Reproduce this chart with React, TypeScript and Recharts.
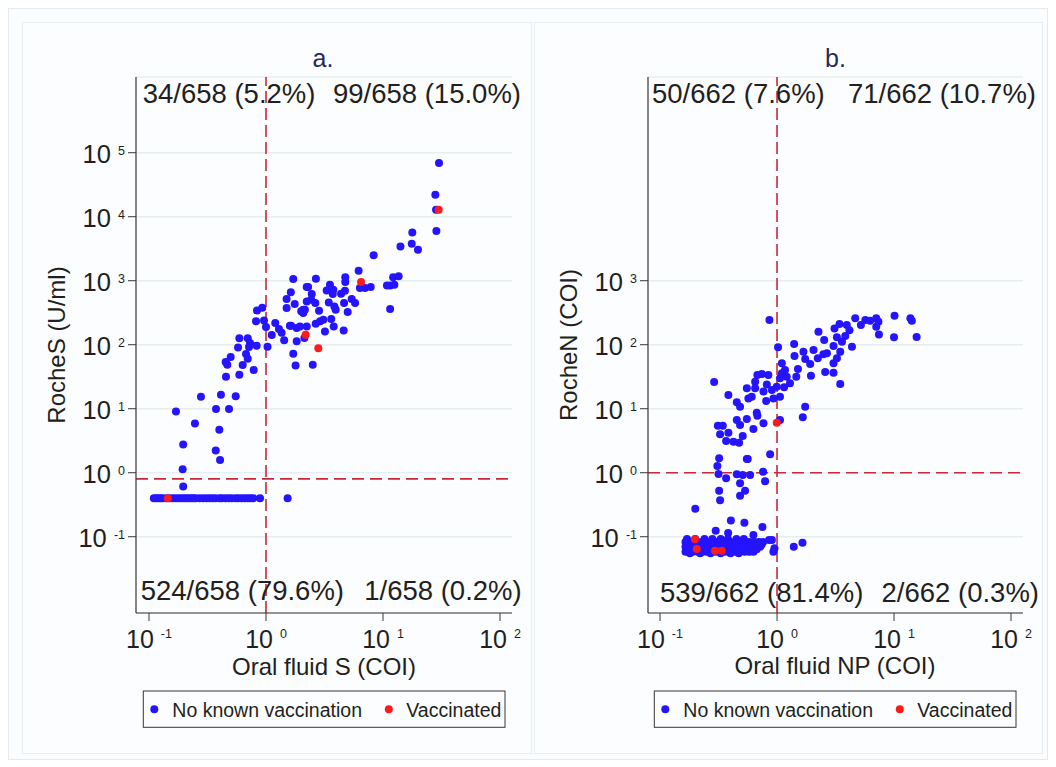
import {
	CartesianGrid,
	ReferenceLine,
	Scatter,
	ScatterChart,
	XAxis,
	YAxis,
} from "recharts";

// panel a: oral fluid S vs RocheS (U/ml)
const S_FLOOR = 0.4;
const sFloorNoVaxX = [
	0.11, 0.115, 0.12, 0.125, 0.13, 0.14, 0.15, 0.16, 0.17, 0.18, 0.19, 0.2, 0.21, 0.22, 0.23,
	0.24, 0.25, 0.27, 0.29, 0.31, 0.33, 0.35, 0.37, 0.4, 0.42, 0.45, 0.48, 0.51, 0.55, 0.58, 0.62,
	0.66, 0.7, 0.74, 0.78, 0.89, 1.53,
];
const sNoVax: [number, number][] = [
	[0.196, 0.611], [0.194, 1.13], [0.196, 2.77], [0.17, 9.08], [0.247, 5.89], [0.278, 15.4],
	[0.374, 9.89], [0.399, 4.7], [0.372, 2.23], [0.405, 1.58], [0.412, 16.6], [0.483, 9.89],
	[0.551, 15.6], [0.455, 31.6], [0.592, 34.0], [0.785, 40.2], [0.632, 48.1], [0.467, 48.8],
	[0.452, 53.6], [0.499, 64.1], [0.675, 71.4], [0.698, 60.4], [0.577, 90.8], [0.832, 96.4],
	[1.03, 93.1], [0.592, 126], [0.698, 126], [0.73, 106], [0.716, 92.0], [0.822, 232],
	[0.838, 344], [0.929, 378], [0.962, 240], [1.0, 189], [1.12, 142], [1.2, 218], [1.29, 176],
	[1.36, 154], [1.43, 117], [1.71, 72.3], [1.79, 47.5], [1.71, 1060], [1.5, 518], [1.63, 658],
	[1.76, 432], [1.5, 374], [1.6, 198], [1.83, 182], [2.08, 352], [2.23, 796],
	[30.1, 69000], [28.0, 22100], [28.4, 12900], [28.6, 5970], [17.8, 5690], [17.6, 3780],
	[19.9, 3050], [14.1, 3440], [8.32, 2490], [6.19, 1430], [6.35, 767], [7.01, 767], [7.85, 796],
	[4.76, 1130], [4.76, 953], [2.67, 1070], [2.29, 796], [3.52, 867], [3.3, 706], [3.76, 723],
	[3.72, 619], [4.38, 627], [4.73, 698], [2.46, 619], [2.43, 505], [2.23, 475], [2.64, 448],
	[3.44, 458], [3.84, 397], [3.94, 352], [4.65, 448], [5.4, 518], [5.77, 448], [4.99, 324],
	[2.84, 340], [2.15, 352], [2.08, 313], [2.0, 332], [11.5, 845], [12.2, 1130], [13.6, 1170],
	[12.5, 867], [10.8, 845], [11.5, 361], [2.66, 213], [2.9, 232], [3.09, 246], [3.61, 252],
	[3.79, 193], [3.19, 161], [4.61, 167], [2.51, 48.8], [2.13, 127], [1.83, 113], [1.95, 193],
	[2.23, 193], [1.64, 198],
];
const sVax: [number, number][] = [
	[0.145, 0.4], [2.18, 143], [2.8, 87.7], [6.49, 953], [29.9, 12900],
];

// panel b: oral fluid NP vs RocheN (COI)
const npNoVax: [number, number][] = [
	[0.861, 243], [1.02, 91.0], [0.29, 26.1], [0.384, 16.4], [0.453, 12.6], [0.483, 10.7],
	[0.671, 8.67], [0.679, 7.78], [0.552, 6.9], [0.453, 6.65], [0.483, 5.56], [0.628, 4.82],
	[0.766, 5.92], [0.509, 3.74], [0.312, 5.42], [0.344, 5.42], [0.326, 3.98], [0.384, 4.22],
	[0.367, 3.13], [0.424, 3.05], [0.474, 2.94], [1.66, 7.35], [1.74, 10.7], [1.06, 6.65],
	[0.931, 14.5], [0.807, 13.2], [0.569, 14.5], [0.608, 15.4], [0.552, 20.8], [0.65, 20.8],
	[0.65, 26.4], [0.679, 33.7], [0.741, 34.8], [0.843, 33.7], [0.818, 24.0], [0.766, 18.5],
	[0.904, 19.6], [0.995, 22.1], [1.06, 29.9], [1.1, 35.7], [1.1, 51.2], [1.17, 40.3],
	[1.21, 31.6], [1.29, 24.9], [1.15, 21.6], [1.06, 15.4], [1.46, 31.6], [1.51, 41.7],
	[1.4, 103], [1.41, 66.5], [1.68, 77.8], [1.74, 59.8], [1.92, 49.9], [1.95, 32.8], [2.05, 82.6],
	[2.26, 160], [2.23, 61.2], [2.49, 70.8], [2.67, 73.5], [2.53, 118], [2.58, 37.4], [3.04, 36.6],
	[3.47, 24.3], [3.04, 51.2], [3.25, 61.2], [3.47, 77.8], [3.04, 95.5], [3.25, 131], [3.59, 111],
	[3.1, 180], [3.42, 210], [3.95, 203], [4.16, 169], [3.83, 137], [4.37, 93.1], [4.66, 258],
	[5.21, 203], [5.68, 243], [6.25, 237], [7.05, 258], [7.36, 229], [7.05, 191], [7.43, 145],
	[10.1, 284], [10.0, 131], [13.8, 258], [14.2, 237], [15.6, 132],
	[0.873, 1.94], [0.32, 1.68], [0.552, 1.64], [0.562, 1.64], [0.309, 1.27], [0.316, 0.955],
	[0.367, 0.817], [0.453, 0.944], [0.509, 0.92], [0.589, 0.92], [0.76, 1.04], [0.791, 0.735],
	[0.483, 0.682], [0.32, 0.524], [0.533, 0.524], [0.483, 0.438], [0.326, 0.371], [0.2, 0.274],
	[0.403, 0.18], [0.526, 0.166], [0.75, 0.142], [0.299, 0.124], [0.382, 0.114], [0.628, 0.106],
	[0.855, 0.0887], [0.904, 0.0887], [1.39, 0.0698], [1.65, 0.0805], [0.951, 0.0659],
	[0.931, 0.0583],
];
// the dense low cluster near the assay floor
const npClusterNoVax: [number, number][] = [
	[0.17, 0.092], [0.2, 0.092], [0.24, 0.092], [0.28, 0.092], [0.33, 0.092], [0.38, 0.092],
	[0.45, 0.092], [0.52, 0.092],
	[0.165, 0.083], [0.175, 0.083], [0.19, 0.083], [0.21, 0.083], [0.23, 0.083], [0.25, 0.083],
	[0.275, 0.083], [0.3, 0.083], [0.33, 0.083], [0.36, 0.083], [0.4, 0.083], [0.44, 0.083],
	[0.48, 0.083], [0.53, 0.083], [0.58, 0.083], [0.64, 0.083], [0.7, 0.083], [0.76, 0.083],
	[0.17, 0.076], [0.185, 0.076], [0.2, 0.076], [0.22, 0.076], [0.24, 0.076], [0.26, 0.076],
	[0.29, 0.076], [0.32, 0.076], [0.35, 0.076], [0.38, 0.076], [0.42, 0.076], [0.46, 0.076],
	[0.51, 0.076], [0.56, 0.076], [0.61, 0.076], [0.67, 0.076], [0.74, 0.076],
	[0.165, 0.07], [0.18, 0.07], [0.195, 0.07], [0.21, 0.07], [0.22, 0.07], [0.24, 0.07],
	[0.26, 0.07], [0.285, 0.07], [0.31, 0.07], [0.34, 0.07], [0.37, 0.07], [0.41, 0.07],
	[0.45, 0.07], [0.5, 0.07], [0.55, 0.07], [0.6, 0.07], [0.66, 0.07], [0.72, 0.07],
	[0.17, 0.064], [0.185, 0.064], [0.2, 0.064], [0.22, 0.064], [0.24, 0.064], [0.26, 0.064],
	[0.29, 0.064], [0.32, 0.064], [0.35, 0.064], [0.38, 0.064], [0.42, 0.064], [0.46, 0.064],
	[0.51, 0.064], [0.56, 0.064], [0.61, 0.064], [0.67, 0.064],
	[0.165, 0.058], [0.175, 0.058], [0.19, 0.058], [0.21, 0.058], [0.23, 0.058], [0.25, 0.058],
	[0.275, 0.058], [0.3, 0.058], [0.33, 0.058], [0.36, 0.058], [0.4, 0.058], [0.44, 0.058],
	[0.48, 0.058], [0.53, 0.058], [0.58, 0.058], [0.63, 0.058],
	[0.18, 0.055], [0.22, 0.055], [0.27, 0.055], [0.33, 0.055], [0.4, 0.055], [0.47, 0.055],
];
const npVax: [number, number][] = [
	[0.995, 6.04], [0.199, 0.091], [0.206, 0.0643], [0.295, 0.0604], [0.337, 0.0604],
];

const xTicks = [0.1, 1, 10, 100];
const yTicksS = [0.1, 1, 10, 100, 1000, 10000, 100000];
const yTicksN = [0.1, 1, 10, 100, 1000];
const yDomain = [0.00643, 1524000];

const BLUE = "#2414ff";
const RED = "#ff1a1a";
const INK = "#231f20";
const AXIS = "#3b3535";
const DASH = "#c9283a";
const FONT = "'Liberation Sans', Arial, Helvetica, sans-serif";

const toPoints = (pairs: [number, number][]) => pairs.map(([x, y]) => ({ x, y }));

const dot = (color: string) => (props: any) =>
	<circle cx={props.cx} cy={props.cy} r={4} fill={color} />;

function XPowTick({ x, y, payload }: any) {
	const exp = Math.round(Math.log10(payload.value));
	return (
		<text x={x} y={y} dy={24.7} textAnchor="middle" fill={INK} fontFamily={FONT}>
			<tspan fontSize={25}>{"10 "}</tspan>
			<tspan fontSize={12.5} dy={-9.5}>{exp}</tspan>
		</text>
	);
}

function YPowTick({ x, y, payload }: any) {
	const exp = Math.round(Math.log10(payload.value));
	return (
		<text x={x} y={y} dy={10} textAnchor="end" fill={INK} fontFamily={FONT}>
			<tspan fontSize={25.5}>{"10 "}</tspan>
			<tspan fontSize={12.5} dy={-8}>{exp}</tspan>
		</text>
	);
}

interface PanelProps {
	width: number;
	xDomain: number[];
	yTicks: number[];
	hLine: number;
	noVax: { x: number; y: number }[];
	vax: { x: number; y: number }[];
}

function Panel({ width, xDomain, yTicks, hLine, noVax, vax }: PanelProps) {
	return (
		<ScatterChart width={width} height={732} margin={{ top: 55, right: 20, bottom: 0, left: 0 }}>
			<CartesianGrid vertical={false} stroke="#e6efef" strokeWidth={1.5} />
			<XAxis
				type="number"
				dataKey="x"
				scale="log"
				domain={xDomain}
				allowDataOverflow
				ticks={xTicks}
				interval={0}
				height={141}
				tickSize={8}
				tickMargin={2}
				axisLine={{ stroke: AXIS, strokeWidth: 1.2 }}
				tickLine={{ stroke: AXIS }}
				tick={<XPowTick />}
			/>
			<YAxis
				type="number"
				dataKey="y"
				scale="log"
				domain={yDomain}
				allowDataOverflow
				ticks={yTicks}
				interval={0}
				width={114}
				tickSize={8}
				tickMargin={3}
				axisLine={{ stroke: AXIS, strokeWidth: 1.2 }}
				tickLine={{ stroke: AXIS }}
				tick={<YPowTick />}
			/>
			<ReferenceLine x={1} stroke={DASH} strokeWidth={1.6} strokeDasharray="12 5" />
			<ReferenceLine y={hLine} stroke={DASH} strokeWidth={1.6} strokeDasharray="12 6" />
			<Scatter data={noVax} shape={dot(BLUE)} isAnimationActive={false} />
			<Scatter data={vax} shape={dot(RED)} isAnimationActive={false} />
		</ScatterChart>
	);
}

function LegendBox({ x }: { x: number }) {
	return (
		<g fontFamily={FONT} fontSize={19.5} fill={INK}>
			<rect x={x} y={691} width={361.7} height={36.3} fill="none" stroke={AXIS} strokeWidth={1} />
			<circle cx={x + 11} cy={709.3} r={4} fill={BLUE} />
			<text x={x + 29} y={716.7}>No known vaccination</text>
			<circle cx={x + 245.5} cy={709.3} r={4} fill={RED} />
			<text x={x + 263} y={716.7}>Vaccinated</text>
		</g>
	);
}

export default function App() {
	const sPoints = [...sFloorNoVaxX.map((x) => ({ x, y: S_FLOOR })), ...toPoints(sNoVax)];
	const npPoints = [...toPoints(npNoVax), ...toPoints(npClusterNoVax)];
	const quad = { fontFamily: FONT, fontSize: 27.5, fill: INK };
	const axisTitle = { fontFamily: FONT, fontSize: 24, fill: INK };
	const title = { fontFamily: FONT, fontSize: 25, fill: "#272a5c" };

	return (
		<div
			style={{
				position: "relative",
				width: 1040,
				height: 752,
				boxSizing: "border-box",
				border: "1px solid #e4eaee",
				background: "#fafcfe",
			}}
		>
			<div style={{ position: "absolute", left: 13, top: 13, width: 510, height: 732, boxSizing: "border-box", border: "1px solid #e6eef1", background: "#fbfdff" }} />
			<div style={{ position: "absolute", left: 525, top: 13, width: 509, height: 732, boxSizing: "border-box", border: "1px solid #e6eef1", background: "#fbfdff" }} />
			<div style={{ position: "absolute", left: 13, top: 13 }}>
				<Panel
					width={510}
					xDomain={[0.07745, 126.6]}
					yTicks={yTicksS}
					hLine={0.8}
					noVax={sPoints}
					vax={toPoints(sVax)}
				/>
			</div>
			<div style={{ position: "absolute", left: 525, top: 13 }}>
				<Panel
					width={509}
					xDomain={[0.0789, 126.6]}
					yTicks={yTicksN}
					hLine={1}
					noVax={npPoints}
					vax={toPoints(npVax)}
				/>
			</div>
			<svg
				width={1040}
				height={752}
				viewBox="8 8 1040 752"
				style={{ position: "absolute", left: -1, top: -1, pointerEvents: "none" }}
			>
				<text x={323} y={66.7} textAnchor="middle" {...title}>a.</text>
				<text x={142.7} y={103.3} {...quad}>34/658 (5.2%)</text>
				<text x={521} y={103.3} textAnchor="end" {...quad}>99/658 (15.0%)</text>
				<text x={140.7} y={600} {...quad}>524/658 (79.6%)</text>
				<text x={521.7} y={600} textAnchor="end" {...quad}>1/658 (0.2%)</text>
				<text x={324} y={675} textAnchor="middle" {...axisTitle}>Oral fluid S (COI)</text>
				<text x={65} y={345} textAnchor="middle" transform="rotate(-90 65 345)" {...axisTitle}>
					RocheS (U/ml)
				</text>
				<LegendBox x={143.3} />

				<text x={835.5} y={66.7} textAnchor="middle" {...title}>b.</text>
				<text x={652} y={103.3} {...quad}>50/662 (7.6%)</text>
				<text x={1036} y={103.3} textAnchor="end" {...quad}>71/662 (10.7%)</text>
				<text x={660} y={601.5} {...quad}>539/662 (81.4%)</text>
				<text x={1039} y={601.5} textAnchor="end" {...quad}>2/662 (0.3%)</text>
				<text x={835} y={674} textAnchor="middle" {...axisTitle}>Oral fluid NP (COI)</text>
				<text x={576.7} y={345} textAnchor="middle" transform="rotate(-90 576.7 345)" {...axisTitle}>
					RocheN (COI)
				</text>
				<LegendBox x={654.3} />
			</svg>
		</div>
	);
}
